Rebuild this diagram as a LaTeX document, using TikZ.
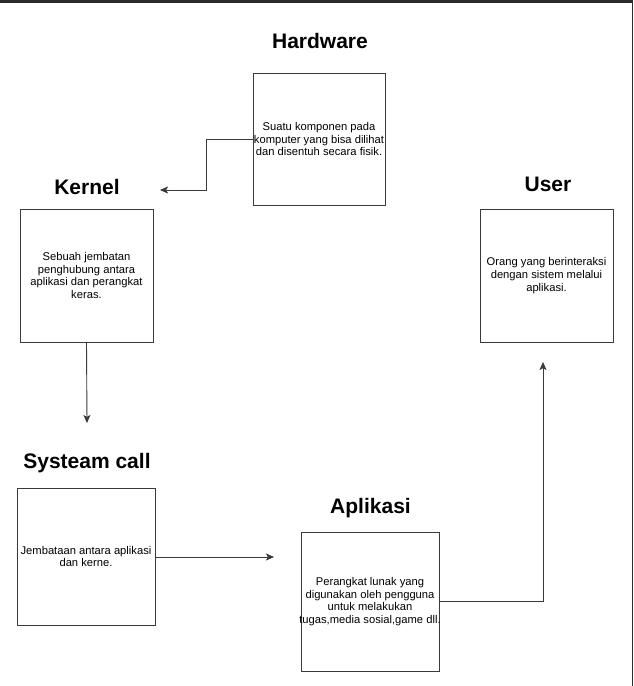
\documentclass[tikz,border=0pt]{standalone}
\usepackage{fontspec}
\setmainfont{Liberation Sans}
\usetikzlibrary{arrows.meta}
\definecolor{edge}{HTML}{3A3A3A}
\definecolor{frame}{HTML}{2B2B2B}
\begin{document}
\begin{tikzpicture}[x=1pt,y=-1pt,
  infobox/.style={draw=edge,line width=0.9pt,align=center,inner ysep=0pt,inner xsep=-6pt,
    font=\fontsize{11.2}{12.8}\selectfont},
  title/.style={anchor=base,inner sep=0pt,font=\fontsize{21}{24}\selectfont\bfseries},
  conn/.style={draw=edge,line width=0.9pt},
  arr/.style={conn,-{Stealth[length=8pt,width=7pt,inset=1.8pt]}}]
\useasboundingbox (0,0) rectangle (633,686);
\fill[white] (0,0) rectangle (633,686);
\fill[frame] (0,0) rectangle (633,3);
\fill[frame] (631.5,0) rectangle (633,686);
% titles
\node[title] (thw) at (320,48) {Hardware};
\node[title] (tk) at (87,194) {Kernel};
\node[title] (tu) at (548,191) {User};
\node[title] (ts) at (87,468) {Systeam call};
\node[title] (ta) at (370.5,513) {Aplikasi};
% boxes
\node[infobox,minimum width=132pt,minimum height=132pt] (hw) at (319,139)
  {Suatu komponen pada\\komputer yang bisa dilihat\\dan disentuh secara fisik.};
\node[infobox,minimum width=133pt,minimum height=133pt] (kr) at (86.5,275.5)
  {Sebuah jembatan\\penghubung antara\\aplikasi dan perangkat\\keras.};
\node[infobox,minimum width=133pt,minimum height=133pt] (us) at (546.5,275.5)
  {Orang yang berinteraksi\\dengan sistem melalui\\aplikasi.};
\node[infobox,minimum width=138pt,minimum height=137pt] (sc) at (86,556.5)
  {Jembataan antara aplikasi\\dan kerne.};
\node[infobox,minimum width=138pt,minimum height=139pt] (ap) at (370,601.5)
  {Perangkat lunak yang\\digunakan oleh pengguna\\untuk melakukan\\tugas,media sosial,game dll.};
% free ends
\coordinate (e1) at (160,190);
\coordinate (e2) at (87,423);
\coordinate (e3) at (274,557);
\coordinate (e4) at (543,362);
% connectors
\draw[arr] (hw.west) -- (206,139) |- (e1);
\draw[arr] (kr.south) -- (e2);
\draw[arr] (sc.east |- e3) -- (e3);
\draw[arr] (ap.east) -| (e4);
\end{tikzpicture}
\end{document}
